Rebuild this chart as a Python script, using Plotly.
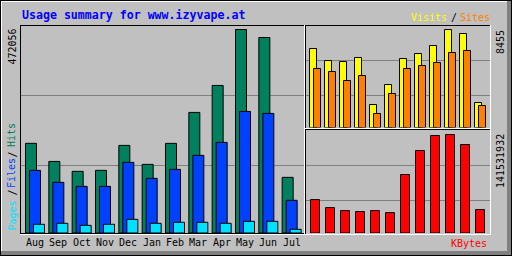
import plotly.graph_objects as go

months = ["Aug", "Sep", "Oct", "Nov", "Dec", "Jan", "Feb", "Mar", "Apr", "May", "Jun", "Jul"]
hits = [208000, 166000, 143000, 145300, 203200, 159200, 207900, 279700, 342300, 472056, 453500, 129100]
files = [145300, 117500, 108200, 108200, 163800, 126800, 147600, 180100, 210200, 282000, 277400, 75800]
pages = [20200, 22500, 17800, 20200, 31700, 22500, 24800, 24800, 22500, 27100, 27100, 8600]
visits = [6816, 5781, 5694, 6040, 1984, 3710, 5953, 6385, 7075, 8455, 8110, 2157]
sites = [5091, 4832, 4055, 4487, 1208, 2934, 5091, 5349, 5608, 6471, 6644, 1898]
kbytes = [48000000, 36500000, 32200000, 30800000, 32200000, 29300000, 84000000,
          118500000, 140100000, 141531932, 127100000, 33700000]

title = "Usage summary for www.izyvape.at"

W, H = 512, 256
BG = "#c0c0c0"
DK = "#808080"
C_HITS, C_FILES, C_PAGES = "#00805c", "#0040ff", "#00e0ff"
C_VISITS, C_SITES, C_KB = "#ffff00", "#ff8000", "#ff0000"
MONO = "DejaVu Sans Mono, Liberation Mono, monospace"


def fx(px):
    return px / W


def fy(py):
    return 1 - py / H


idx = list(range(len(months)))

fig = go.Figure()

# left panel: hits / files / pages
uL = 23.333
wL = 11 / uL
for vals, col, off in [(hits, C_HITS, 0), (files, C_FILES, 4 / uL), (pages, C_PAGES, 8 / uL)]:
    fig.add_trace(go.Bar(x=idx, y=vals, xaxis="x", yaxis="y", marker=dict(color=col, line=dict(color="black", width=1)),
                         offset=off, width=wL, hoverinfo="skip"))

# top right: visits / sites
uR = 15.0
wR = 7 / uR
for vals, col, off in [(visits, C_VISITS, 0), (sites, C_SITES, 4 / uR)]:
    fig.add_trace(go.Bar(x=idx, y=vals, xaxis="x2", yaxis="y2", marker=dict(color=col, line=dict(color="black", width=1)),
                         offset=off, width=wR, hoverinfo="skip"))

# bottom right: kbytes
fig.add_trace(go.Bar(x=idx, y=kbytes, xaxis="x3", yaxis="y3", marker=dict(color=C_KB, line=dict(color="black", width=1)),
                     offset=1 / uR, width=9 / uR, hoverinfo="skip"))

x0L = (20 - 25.5) / uL
x0R = (306 - 309.5) / uR
ax_common = dict(visible=False, fixedrange=True, showgrid=False, zeroline=False)
fig.update_layout(
    width=W, height=H, margin=dict(l=0, r=0, t=0, b=0, pad=0),
    paper_bgcolor=BG, plot_bgcolor="rgba(0,0,0,0)", showlegend=False, barmode="overlay",
    xaxis=dict(domain=[fx(20), fx(305)], range=[x0L, x0L + 285 / uL], anchor="y", **ax_common),
    yaxis=dict(domain=[fy(233), fy(25)], range=[0, max(hits) * 208 / 203.5], anchor="x", **ax_common),
    xaxis2=dict(domain=[fx(306), fx(491)], range=[x0R, x0R + 185 / uR], anchor="y2", **ax_common),
    yaxis2=dict(domain=[fy(127.5), fy(25)], range=[0, max(visits) * 102.5 / 98], anchor="x2", **ax_common),
    xaxis3=dict(domain=[fx(306), fx(491)], range=[x0R, x0R + 185 / uR], anchor="y3", **ax_common),
    yaxis3=dict(domain=[fy(233), fy(130)], range=[0, max(kbytes) * 103 / 98.5], anchor="x3", **ax_common),
)

shapes = []


def line(x0, y0, x1, y1, color, width=1, layer="above"):
    shapes.append(dict(type="line", xref="paper", yref="paper", x0=fx(x0), y0=fy(y0), x1=fx(x1), y1=fy(y1),
                       line=dict(color=color, width=width), layer=layer))


def rect(x0, y0, x1, y1, color, layer="below"):
    shapes.append(dict(type="rect", xref="paper", yref="paper", x0=fx(x0), y0=fy(y0), x1=fx(x1), y1=fy(y1),
                       line=dict(width=0), fillcolor=color, layer=layer))


# outer frame
rect(0, 251, 512, 256, DK)
rect(507, 0, 512, 256, DK)
line(0, 1.5, 507, 1.5, "white")
line(1.5, 0, 1.5, 251, "white")
line(0, 0.5, 512, 0.5, "black")
line(0.5, 0, 0.5, 256, "black")
line(0, 255.5, 512, 255.5, "black")
line(511.5, 0, 511.5, 256, "black")

# grid lines
for gy in (95.5, 165.5):
    line(20, gy, 305, gy, DK, layer="below")
for gy in (60.5, 95.5):
    line(306, gy, 491, gy, DK, layer="below")
for gy in (165.5, 200.5):
    line(306, gy, 491, gy, DK, layer="below")

# panel borders
line(20, 25.5, 305, 25.5, "black")
line(20.5, 25, 20.5, 234, "black")
line(20, 233.5, 305, 233.5, "black")
line(20, 234.5, 306, 234.5, "white")
line(304.5, 25, 304.5, 235, "white")

line(305, 25.5, 491, 25.5, "black")
line(305.5, 25, 305.5, 128, "black")
line(305, 128.5, 491, 128.5, "white")
line(490.5, 25, 490.5, 129, "white")

line(305, 129.5, 491, 129.5, "black")
line(305.5, 129, 305.5, 234, "black")
line(305, 234.5, 491, 234.5, "white")
line(490.5, 129, 490.5, 235, "white")

fig.update_layout(shapes=shapes)

ann = []


def text(x, y, s, color, size=10, bold=False, angle=0, xanchor="center", yanchor="middle", xref="paper"):
    ann.append(dict(x=x if xref != "paper" else fx(x), y=fy(y), xref=xref, yref="paper", text=("<b>%s</b>" % s) if bold else s,
                    showarrow=False, textangle=angle, xanchor=xanchor, yanchor=yanchor,
                    font=dict(family=MONO, size=size, color=color)))


text(20, 14.5, title, "#0000ff", size=11.6, bold=True, xanchor="left")
text(429.3, 17.5, "Visits", C_VISITS)
text(454, 17.5, "/", "black")
text(474.7, 17.5, "Sites", C_SITES)
text(489, 243, "KBytes", C_KB, xanchor="right")

# left vertical labels
text(11.5, 27, str(max(hits)), "black", angle=-90, yanchor="top")
text(11.5, 216, "Pages", C_PAGES, angle=-90)
text(11.5, 193, "/", "black", angle=-90)
text(11.5, 173.5, "Files", C_FILES, angle=-90)
text(11.5, 155, "/", "black", angle=-90)
text(11.5, 135.5, "Hits", C_HITS, angle=-90)

# right vertical labels
text(500, 28, str(max(visits)), "black", angle=-90, yanchor="top")
text(500, 132, str(max(kbytes)), "black", angle=-90, yanchor="top")

# month labels
for i, m in enumerate(months):
    text(i + 9.5 / uL, 242, m, "black", xref="x")

fig.update_layout(annotations=ann)
fig.write_html("out.html")
